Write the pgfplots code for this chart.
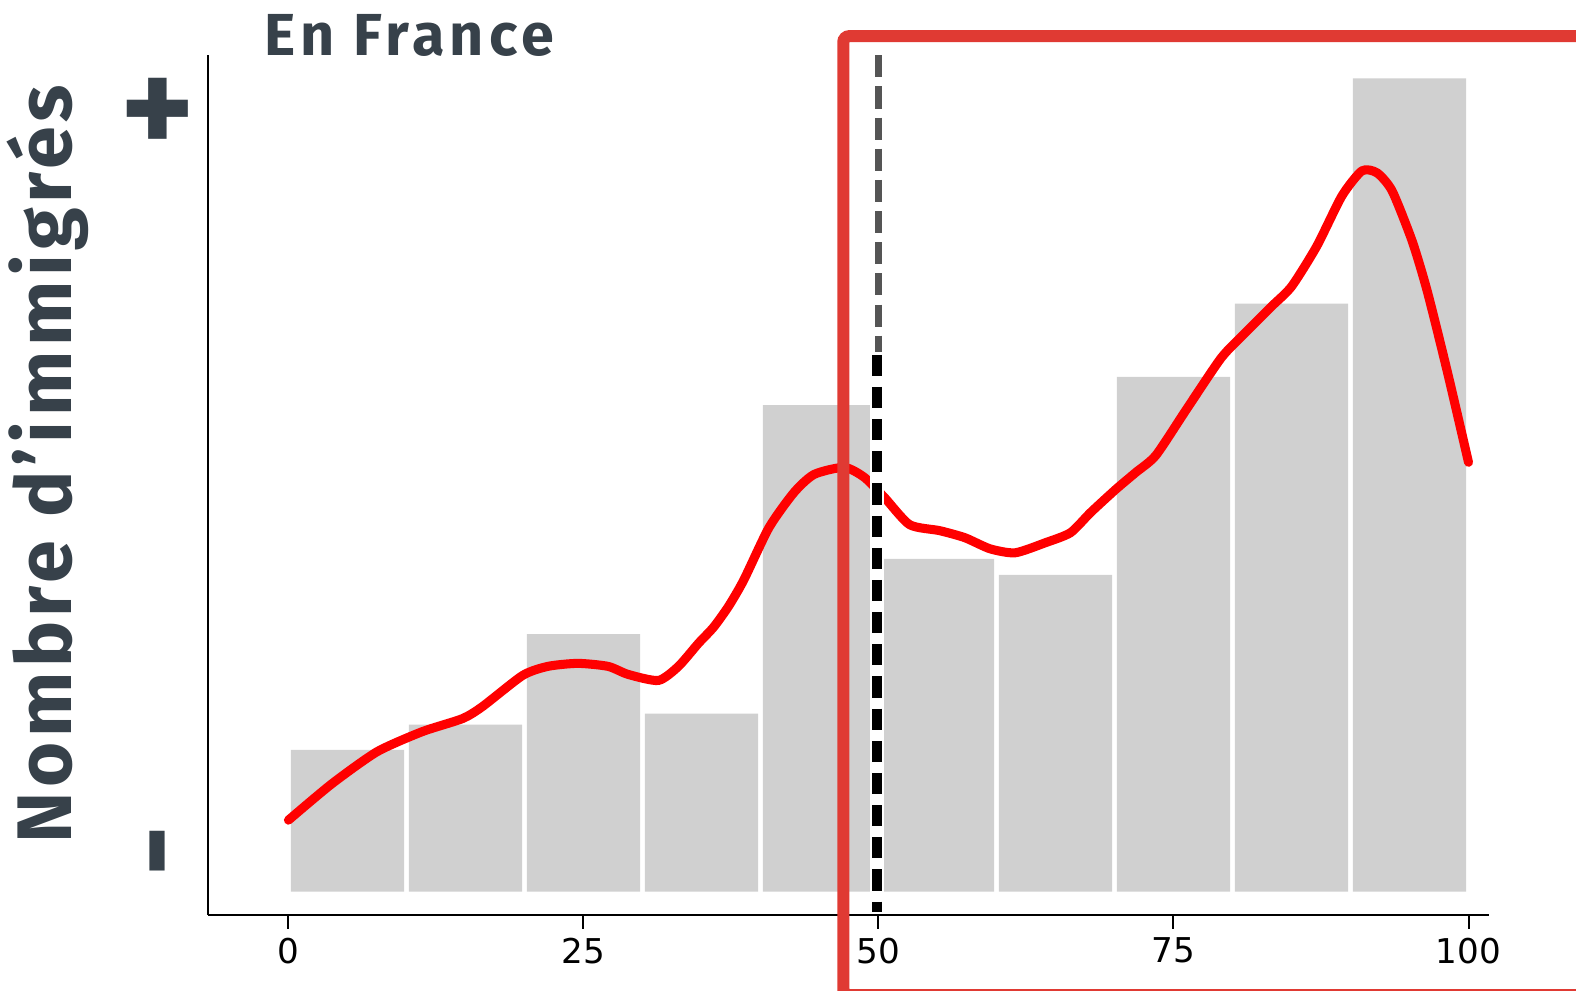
\documentclass[border=0pt]{standalone}
\usepackage{pgfplots}
\pgfplotsset{compat=1.18}
\usepackage{fontspec}
\setmainfont{Fira Sans}
\newfontfamily\dejavu{DejaVu Sans}
\definecolor{slate}{HTML}{37414A}
\definecolor{bargray}{HTML}{D0D0D0}
\definecolor{boxred}{HTML}{E03A33}
\definecolor{dgray}{HTML}{555555}
\begin{document}
\begin{tikzpicture}
\begin{axis}[
  at={(0pt,0pt)}, anchor=south west,
  scale only axis, width=637pt, height=427.5pt,
  xmin=-6.81, xmax=101.70, ymin=-23, ymax=832,
  axis lines=left, axis line style={-, line width=1pt, black},
  xtick={0,25,50,75,100}, ytick=\empty,
  tick align=outside, major tick length=7pt,
  tick style={line width=1pt, black},
  xticklabel style={font=\dejavu\fontsize{17}{17}\selectfont, black, yshift=-1pt},
  /pgf/number format/assume math mode=true,
  clip=false,
]
\addplot[ybar, bar width=9.6, fill=bargray, draw=none] coordinates {
  (5,141) (15,166) (25,256) (35,177) (45,484)
  (55,331) (65,315) (75,512) (85,585) (95,809)
};
\addplot[red, line width=4.5pt, smooth, tension=0.4, line cap=round, line join=round] coordinates {
  (0,71) (3.66,107) (7.50,139) (11.33,159) (14.74,172) (16.44,184)
  (19.85,215) (21.98,224) (24.53,227) (27.09,224) (28.79,216) (31.35,210)
  (33.05,224) (34.75,247) (36.03,263) (37.31,284) (38.59,310) (40.72,362)
  (42.84,397) (44.55,415) (47.10,422) (48.81,412) (50.51,392) (52.64,365)
  (55.20,359) (57.33,352) (59.45,341) (61.58,337) (64.14,347) (66.27,357)
  (67.97,377) (70.10,400) (71.81,417) (73.51,434) (76.06,479) (79.05,531)
  (81.18,557) (83.30,582) (85.01,602) (87.14,642) (89.27,692) (90.97,717)
  (92.25,715) (93.53,697) (95.23,647) (96.51,597) (98.21,517) (100,427)
};
\addplot[dgray, line width=3.2pt, dash pattern=on 11pt off 4.5pt] coordinates {(50,832) (50,537)};
\addplot[white, line width=7pt] coordinates {(49.85,534) (49.85,-20)};
\addplot[black, line width=4.8pt, dash pattern=on 10.5pt off 5.5pt] coordinates {(49.85,534) (49.85,-20)};
\end{axis}
\draw[boxred, line width=6pt, rounded corners=3pt] (700pt,437pt) -- (316pt,437pt) -- (316pt,-40pt) -- (700pt,-40pt);
\node[anchor=base west, inner sep=0pt, text=slate, font=\bfseries\fontsize{29.5}{29.5}\selectfont\addfontfeatures{LetterSpace=8.5}] at (28pt,427.5pt) {En France};
\node[anchor=base, inner sep=0pt, rotate=90, text=slate, font=\bfseries\fontsize{38.5}{38.5}\selectfont\addfontfeatures{LetterSpace=6}] at (-68pt,224pt) {Nombre d’immigrés};
\node[anchor=center, inner sep=0pt, text=slate, font=\bfseries\fontsize{70}{70}\selectfont] at (-25pt,397pt) {+};
\node[anchor=center, inner sep=0pt, rotate=90, text=slate, font=\bfseries\fontsize{62}{62}\selectfont] at (-17.5pt,31.5pt) {-};
\pgfresetboundingbox
\useasboundingbox (-103.5pt,-37.5pt) rectangle (680.5pt,455pt);
\end{tikzpicture}
\end{document}
